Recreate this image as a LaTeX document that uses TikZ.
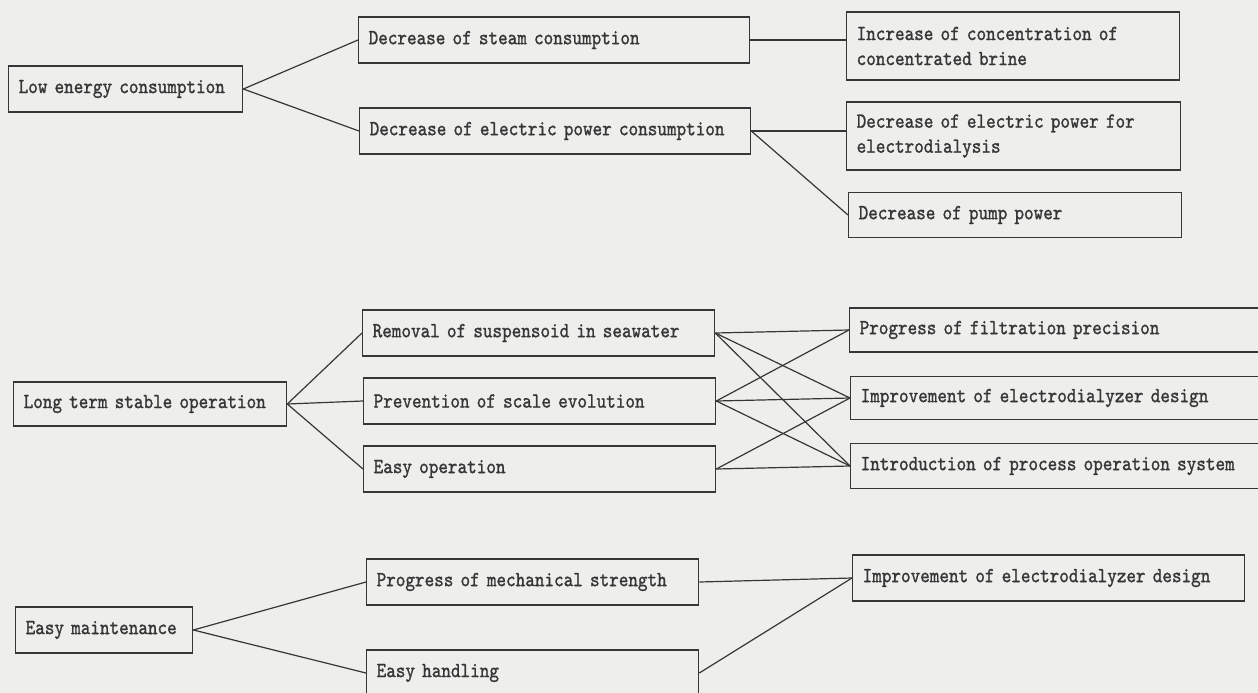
\documentclass[tikz,border=0pt]{standalone}
\usepackage{fontspec}
\usepackage{xcolor}
\usepackage{tikz}
\usetikzlibrary{positioning}
\newfontfamily\cellfont{lmmono10-regular.otf}[FakeStretch=0.85, FakeBold=1.2]
\definecolor{paper}{HTML}{EEEEEC}
\definecolor{ink}{HTML}{363636}
\tikzstyle{cell} = [rectangle, 
anchor=west, 
draw=ink, 
line width=1.3pt, 
align=left, 
inner xsep=10pt, 
inner ysep=0pt, 
minimum height=46pt, 
text=ink, 
font=\cellfont\fontsize{21.5}{25}\selectfont]
\tikzstyle{link} = [line width=1.2pt, draw=ink]

\begin{document}
\begin{tikzpicture}[x=1pt, y=-1pt]

\fill [paper] (0,0) rectangle (1258,693);
\clip (0,0) rectangle (1258,693);

% Low energy consumption
\node (low) [cell, text width=214pt] at (8,89) {Low energy consumption};
\node (steam) [cell, text width=371pt] at (358,40) {Decrease of steam consumption};
\node (elec) [cell, text width=371pt] at (359,131) {Decrease of electric power consumption};
\node (brine) [cell, text width=313pt, minimum height=68pt] at (846,46) {Increase of concentration of\\concentrated brine};
\node (edial) [cell, text width=314pt, minimum height=68pt] at (846,136) {Decrease of electric power for\\electrodialysis};
\node (pump) [cell, text width=313pt, minimum height=45pt] at (848,215) {Decrease of pump power};

\draw [link] (low.east) -- (steam.west);
\draw [link] (low.east) -- (elec.west);
\draw [link] (steam.east) -- (steam.east -| brine.west);
\draw [link] (elec.east) -- (elec.east -| edial.west);
\draw [link] (elec.east) -- (pump.west);

% Long term stable operation
\node (stable) [cell, text width=253pt, minimum height=44pt] at (13,404) {Long term stable operation};
\node (susp) [cell, text width=332pt] at (362,333) {Removal of suspensoid in seawater};
\node (scale) [cell, text width=332pt] at (363,401) {Prevention of scale evolution};
\node (easyop) [cell, text width=332pt] at (363,469) {Easy operation};
\node (filt) [cell, text width=392pt, minimum height=44pt] at (849,330) {Progress of filtration precision};
\node (design) [cell, text width=391pt, minimum height=43pt] at (850,398) {Improvement of electrodialyzer design};
\node (procsys) [cell, text width=391pt, minimum height=45pt] at (850,466) {Introduction of process operation system};

\draw [link] (stable.east) -- (susp.west);
\draw [link] (stable.east) -- (scale.west);
\draw [link] (stable.east) -- (easyop.west);
\draw [link] (susp.east) -- (filt.west);
\draw [link] (susp.east) -- (design.west);
\draw [link] (susp.east) -- (procsys.west);
\draw [link] (scale.east) -- (filt.west);
\draw [link] (scale.east) -- (design.west);
\draw [link] (scale.east) -- (procsys.west);
\draw [link] (easyop.east) -- (design.west);
\draw [link] (easyop.east) -- (procsys.west);

% Easy maintenance
\node (maint) [cell, text width=157pt] at (15,630) {Easy maintenance};
\node (mech) [cell, text width=312pt] at (366,582) {Progress of mechanical strength};
\node (handling) [cell, text width=312pt] at (366,673) {Easy handling};
\node (design2) [cell, text width=372pt] at (852,578) {Improvement of electrodialyzer design};

\draw [link] (maint.east) -- (mech.west);
\draw [link] (maint.east) -- (handling.west);
\draw [link] (mech.east) -- (design2.west);
\draw [link] (handling.east) -- (design2.west);

\end{tikzpicture}
\end{document}
